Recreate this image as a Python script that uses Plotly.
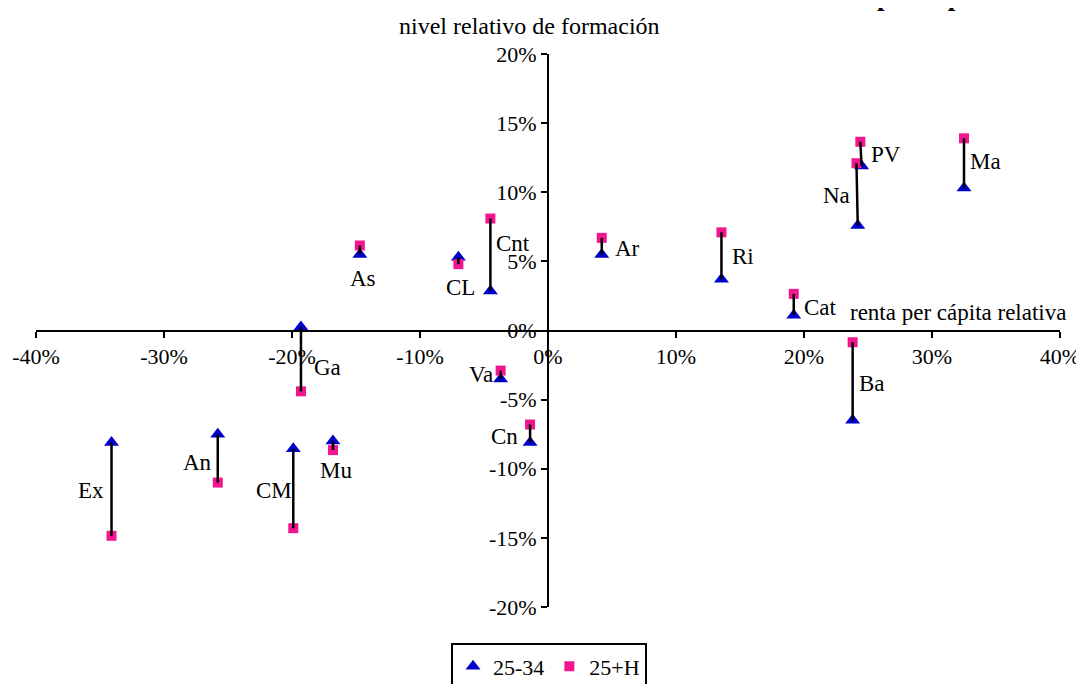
import plotly.graph_objects as go

# ---------------- data (percent) ----------------
regions = ["Ex", "An", "CM", "Mu", "Ga", "As", "CL", "Cnt", "Va", "Cn",
           "Ar", "Ri", "Cat", "Ba", "Na", "PV", "Ma"]

# series 25-34 (triangles)
x_2534 = [-34.1, -25.8, -19.9, -16.8, -19.3, -14.7, -7.0, -4.5, -3.7, -1.4,
          4.2, 13.55, 19.2, 23.8, 24.2, 24.5, 32.5]
y_2534 = [-8.1, -7.5, -8.55, -8.0, 0.25, 5.5, 5.3, 2.85, -3.5, -8.1,
          5.5, 3.7, 1.1, -6.5, 7.6, 11.9, 10.3]

# series 25+H (squares)
x_25H = [-34.1, -25.8, -19.9, -16.8, -19.3, -14.7, -7.0, -4.5, -3.7, -1.4,
         4.2, 13.55, 19.2, 23.8, 24.1, 24.4, 32.5]
y_25H = [-14.85, -11.0, -14.3, -8.65, -4.4, 6.15, 4.8, 8.1, -2.9, -6.8,
         6.7, 7.1, 2.65, -0.85, 12.1, 13.65, 13.9]

x_tickvals = [-40, -30, -20, -10, 0, 10, 20, 30, 40]
x_ticktext = ["-40%", "-30%", "-20%", "-10%", "0%", "10%", "20%", "30%", "40%"]
y_tickvals = [-20, -15, -10, -5, 0, 5, 10, 15, 20]
y_ticktext = ["-20%", "-15%", "-10%", "-5%", "0%", "5%", "10%", "15%", "20%"]

# label offsets in pixels relative to the triangle point (dx right, dy down)
label_offsets = {
    "Ex": (-21, 48), "An": (-20, 28), "CM": (-19, 42), "Mu": (3, 29),
    "Ga": (27, 40), "As": (3, 24), "CL": (2, 30), "Cnt": (23, -48),
    "Va": (-20, -4), "Cn": (-26, -6), "Ar": (26, -6), "Ri": (22, -23),
    "Cat": (27, -8), "Ba": (19, -37), "Na": (-21, -30), "PV": (24, -11),
    "Ma": (21, -27),
}

FONT = "Liberation Serif"
BLUE = "#0000CC"
PINK = "#F2158E"

fig = go.Figure()

fig.add_trace(go.Scatter(
    x=x_2534, y=y_2534, mode="markers", name="25-34",
    marker=dict(symbol="triangle-up", size=13, color=BLUE),
))
fig.add_trace(go.Scatter(
    x=x_25H, y=y_25H, mode="markers", name="25+H",
    marker=dict(symbol="square", size=10, color=PINK),
))

# connecting lines
lx, ly = [], []
for a, b, c, d in zip(x_2534, y_2534, x_25H, y_25H):
    lx += [a, c, None]
    ly += [b, d, None]
fig.add_trace(go.Scatter(
    x=lx, y=ly, mode="lines", showlegend=False, hoverinfo="skip",
    line=dict(color="black", width=2.5),
))

annotations = []
for r, xv, yv in zip(regions, x_2534, y_2534):
    dx, dy = label_offsets[r]
    annotations.append(dict(
        x=xv, y=yv, xref="x", yref="y", text=r, showarrow=False,
        xanchor="center", yanchor="middle",
        xshift=dx, yshift=-dy, font=dict(family=FONT, size=23, color="black"),
    ))

annotations.append(dict(
    text="nivel relativo de formación", xref="paper", yref="paper",
    x=0.4824, y=1.0506, xanchor="center", yanchor="middle", showarrow=False,
    font=dict(family=FONT, size=24, color="black"),
))
annotations.append(dict(
    text="renta per cápita relativa", xref="paper", yref="paper",
    x=0.9004, y=0.533, xanchor="center", yanchor="middle", showarrow=False,
    font=dict(family=FONT, size=23, color="black"),
))
annotations.append(dict(
    text="<b>Formación frente a renta per cápita</b>", xref="paper", yref="paper",
    x=0.9365, y=1.0741, xanchor="right", yanchor="bottom", showarrow=False,
    font=dict(family=FONT, size=27, color="black"),
))

axis_common = dict(
    showgrid=False, zeroline=False, showline=True, linecolor="black",
    linewidth=2, ticks="outside", ticklen=6, tickwidth=2, tickcolor="black",
    tickfont=dict(family=FONT, size=22, color="black"), automargin=False,
)

# page body adds an 8px offset; figure size/margins compensate for it
fig.update_layout(
    width=1076, height=676,
    margin=dict(l=28, r=24, t=46, b=77, autoexpand=False),
    plot_bgcolor="white", paper_bgcolor="white",
    font=dict(family=FONT, color="black"),
    xaxis=dict(range=[-40, 40], tickvals=x_tickvals, ticktext=x_ticktext,
               anchor="free", position=0.5, **axis_common),
    yaxis=dict(range=[-20, 20], tickvals=y_tickvals, ticktext=y_ticktext,
               anchor="free", position=0.5, **axis_common),
    legend=dict(orientation="h", x=0.501, xanchor="center", y=-0.066,
                yanchor="top", bordercolor="black", borderwidth=2,
                font=dict(family=FONT, size=22, color="black"),
                itemsizing="trace", traceorder="normal",
                itemwidth=30, tracegroupgap=0),
    annotations=annotations,
    showlegend=True,
)

fig.write_html("out.html")
